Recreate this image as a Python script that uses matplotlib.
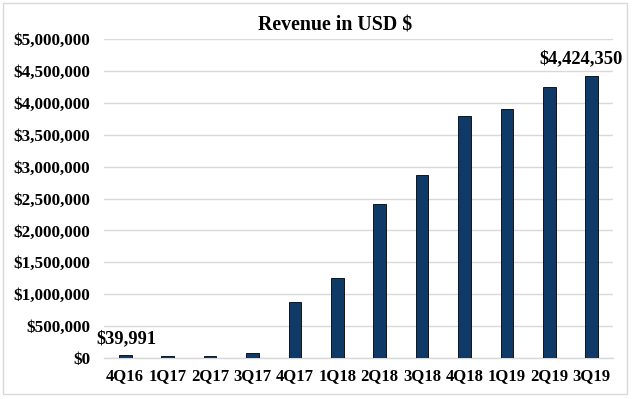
import matplotlib
matplotlib.use("Agg")
import matplotlib.pyplot as plt
from matplotlib.ticker import FuncFormatter
from matplotlib.patches import Rectangle

quarters = ["4Q16", "1Q17", "2Q17", "3Q17", "4Q17", "1Q18", "2Q18", "3Q18",
            "4Q18", "1Q19", "2Q19", "3Q19"]
revenue = [39991, 35000, 38000, 80000, 880000, 1260000, 2420000, 2870000,
           3790000, 3900000, 4250000, 4424350]
y_ticks = [0, 500000, 1000000, 1500000, 2000000, 2500000, 3000000,
           3500000, 4000000, 4500000, 5000000]
title = "Revenue in USD $"

plt.rcParams['font.family'] = ['Liberation Serif', 'DejaVu Serif']
plt.rcParams['font.weight'] = 'bold'

fig = plt.figure(figsize=(6.32, 3.99), dpi=100)
W, H = 632, 399
ax = fig.add_axes([104 / W, 1 - 358 / H, (613 - 104) / W, (358 - 39) / H])

x = list(range(len(quarters)))
ax.bar(x, revenue, width=0.3, color='#0f3a68', edgecolor='#000000',
       linewidth=0.6, zorder=3)

ax.set_xlim(-0.5, len(quarters) - 0.5)
ax.set_ylim(0, 5000000)
ax.set_yticks(y_ticks)
ax.yaxis.set_major_formatter(FuncFormatter(lambda v, p: "${:,.0f}".format(v)))
ax.set_xticks(x)
ax.set_xticklabels(quarters)
ax.grid(axis='y', color='#d9d9d9', linewidth=1.0, zorder=0)
for s in ['top', 'right', 'left']:
    ax.spines[s].set_visible(False)
ax.spines['bottom'].set_color('#d9d9d9')
ax.spines['bottom'].set_linewidth(1.0)
ax.tick_params(axis='x', length=0, labelsize=12, pad=7)
ax.tick_params(axis='y', length=0, labelsize=12.3, pad=10)
for lab in ax.get_xticklabels() + ax.get_yticklabels():
    lab.set_fontweight('bold')

ax.annotate("${:,.0f}".format(revenue[0]), xy=(x[0], revenue[0]),
            xytext=(1, 6), textcoords='offset points', ha='center', va='bottom',
            fontsize=13.3, fontweight='bold')
ax.annotate("${:,.0f}".format(revenue[-1]), xy=(x[-1], revenue[-1]),
            xytext=(-8, 6), textcoords='offset points', ha='center', va='bottom',
            fontsize=13.3, fontweight='bold')

fig.text(335 / W, 1 - 26 / H, title, ha='center',
         va='center', fontsize=14.3, fontweight='bold')

fig.patches.append(Rectangle((3 / W, 1 - 394 / H), (627 - 3) / W, (394 - 3) / H,
                             transform=fig.transFigure, fill=False,
                             edgecolor='#d9d9d9', linewidth=1.0))

fig.savefig("out.png", dpi=100)
